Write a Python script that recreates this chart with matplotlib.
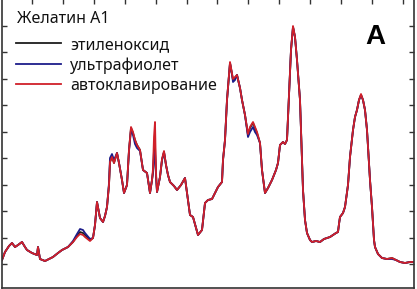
import numpy as np
import matplotlib
matplotlib.use("Agg")
import matplotlib.pyplot as plt

# ---- data (arbitrary spectral units) ----
channel = [2, 5, 9, 12, 15, 18, 22, 25, 27, 32, 37, 38, 40, 45, 49, 53, 58, 62, 68, 73,
           77, 80, 83, 85, 90, 93, 95, 97, 100, 103, 105, 107, 109, 110, 112, 114, 117, 119,
           122, 124, 127, 129, 131, 133, 135, 137, 140, 143, 147, 150, 152, 153, 154, 155,
           156, 157, 160, 162, 164, 166, 168, 170, 174, 177, 181, 185, 188, 190, 193, 196,
           198, 202, 205, 208, 212, 215, 218, 222, 223, 225, 227, 229, 230, 232, 233, 235,
           237, 240, 242, 245, 248, 250, 253, 255, 257, 260, 262, 265, 268, 272, 276, 278,
           280, 283, 285, 287, 289, 291, 293, 295, 297, 300, 302, 303, 305, 307, 310, 312,
           316, 320, 324, 327, 330, 333, 336, 338, 339, 340, 343, 345, 348, 350, 353, 355,
           357, 359, 361, 363, 365, 367, 368, 370, 372, 374, 375, 378, 382, 387, 392, 396,
           400, 405, 410, 414]

ethylene_oxide = [27, 35, 41, 44, 40, 42, 45, 40, 37, 34, 32, 40, 28, 26, 28, 30, 34, 37, 40, 45,
                  51, 55, 54, 52, 47, 49, 62, 85, 69, 65, 71, 80, 102, 125, 130, 124, 134, 124,
                  107, 94, 102, 137, 159, 154, 147, 142, 137, 117, 114, 94, 107, 115, 137, 142,
                  112, 95, 110, 127, 135, 122, 112, 105, 101, 97, 102, 109, 87, 72, 70, 59,
                  52, 57, 84, 87, 88, 94, 100, 105, 127, 147, 187, 212, 224, 213, 207, 209,
                  212, 199, 187, 172, 152, 159, 164, 159, 154, 144, 117, 94, 99, 107, 117, 124,
                  142, 145, 143, 147, 192, 237, 260, 250, 227, 187, 127, 97, 67, 54, 47, 45,
                  46, 45, 48, 49, 50, 52, 54, 55, 63, 70, 74, 80, 102, 130, 157, 170,
                  177, 187, 192, 187, 177, 157, 140, 107, 80, 47, 40, 33, 29, 28, 29, 27,
                  25, 24, 25, 25]

ultraviolet = [27, 35, 41, 44, 40, 42, 45, 40, 37, 34, 32, 40, 28, 26, 28, 30, 34, 37, 40, 46,
               53, 58, 57, 54, 48, 49, 62, 85, 69, 65, 71, 80, 104, 129, 133, 127, 134, 124,
               107, 94, 102, 136, 157, 152, 143, 139, 136, 117, 114, 94, 107, 115, 130, 135,
               112, 95, 110, 127, 135, 122, 112, 105, 101, 97, 102, 109, 87, 72, 70, 59,
               52, 57, 84, 87, 88, 94, 100, 105, 127, 147, 187, 212, 224, 213, 205, 207,
               212, 199, 187, 172, 150, 155, 160, 155, 152, 144, 117, 94, 99, 107, 117, 124,
               142, 145, 143, 147, 192, 237, 260, 250, 227, 187, 127, 97, 67, 54, 47, 45,
               46, 45, 48, 49, 50, 52, 54, 55, 63, 70, 74, 80, 102, 130, 157, 170,
               177, 187, 192, 187, 177, 157, 140, 107, 80, 47, 40, 33, 29, 28, 28, 27,
               25, 24, 25, 25]

autoclave = [27, 35, 41, 44, 40, 42, 45, 40, 37, 34, 32, 40, 28, 26, 28, 30, 34, 37, 40, 45,
             50, 53, 52, 50, 46, 49, 62, 85, 69, 65, 71, 80, 102, 125, 130, 124, 134, 124,
             107, 94, 102, 137, 160, 155, 147, 142, 137, 117, 114, 94, 107, 118, 150, 165,
             115, 95, 110, 128, 136, 122, 112, 105, 101, 97, 102, 109, 87, 72, 70, 59,
             52, 57, 84, 87, 88, 94, 100, 105, 127, 147, 187, 212, 225, 214, 208, 210,
             212, 199, 187, 172, 153, 160, 165, 160, 155, 144, 117, 94, 99, 107, 117, 124,
             142, 145, 143, 147, 192, 237, 261, 250, 227, 187, 127, 97, 67, 54, 47, 45,
             46, 45, 48, 49, 50, 52, 54, 55, 63, 70, 74, 80, 102, 130, 157, 170,
             177, 187, 193, 187, 177, 157, 140, 107, 80, 47, 40, 33, 29, 28, 29, 27,
             25, 24, 25, 25]

series_labels = ["этиленоксид", "ультрафиолет", "автоклавирование"]
series_colors = ["#1e1e1e", "#1c1c8a", "#d0202a"]
legend_title = "Желатин А1"
panel_label = "A"

top_ticks = [32 + 30.9 * k for k in range(13)]
side_ticks = [23 + 26.5 * k for k in range(10)]

# ---- figure ----
plt.rcParams['font.family'] = ['Noto Sans', 'DejaVu Sans']
fig = plt.figure(figsize=(4.17, 2.89), dpi=100)
ax = fig.add_axes([1.5 / 417, 1.5 / 289, 412.5 / 417, 290 / 289])

lines = []
for ys, lab, col in zip([ethylene_oxide, ultraviolet, autoclave], series_labels, series_colors):
    ln, = ax.plot(channel, ys, color=col, lw=1.3, label=lab, solid_joinstyle='round')
    lines.append(ln)

ax.set_xlim(1.5, 414)
ax.set_ylim(-0.5, 289.5)

ax.set_xticks(top_ticks)
ax.set_yticks(side_ticks)
ax.tick_params(axis='x', which='both', direction='in', top=True, bottom=False,
               labeltop=False, labelbottom=False, length=4.5, width=1.0, color='#333333')
ax.tick_params(axis='y', which='both', direction='in', left=True, right=True,
               labelleft=False, labelright=False, length=3.5, width=1.0, color='#333333')
for s in ax.spines.values():
    s.set_linewidth(1.2)
    s.set_color('#333333')

ax.text(17 / 417, 1 - 19 / 289, legend_title, transform=fig.transFigure,
        fontsize=11.5, va='center', ha='left', color='#111111')

leg = ax.legend(handles=lines, loc='upper left', bbox_to_anchor=(16 / 417, 1 - 37 / 289),
                bbox_transform=fig.transFigure, frameon=False, fontsize=11.5,
                handlelength=2.8, handletextpad=0.6, labelspacing=0.26, borderpad=0,
                borderaxespad=0)
for t in leg.get_texts():
    t.set_color('#111111')

fig.text(375 / 417, 1 - 37 / 289, panel_label, fontsize=20, fontweight='bold',
         family='Liberation Sans', ha='center', va='center', color='#000000')

fig.savefig("out.png", dpi=100)
